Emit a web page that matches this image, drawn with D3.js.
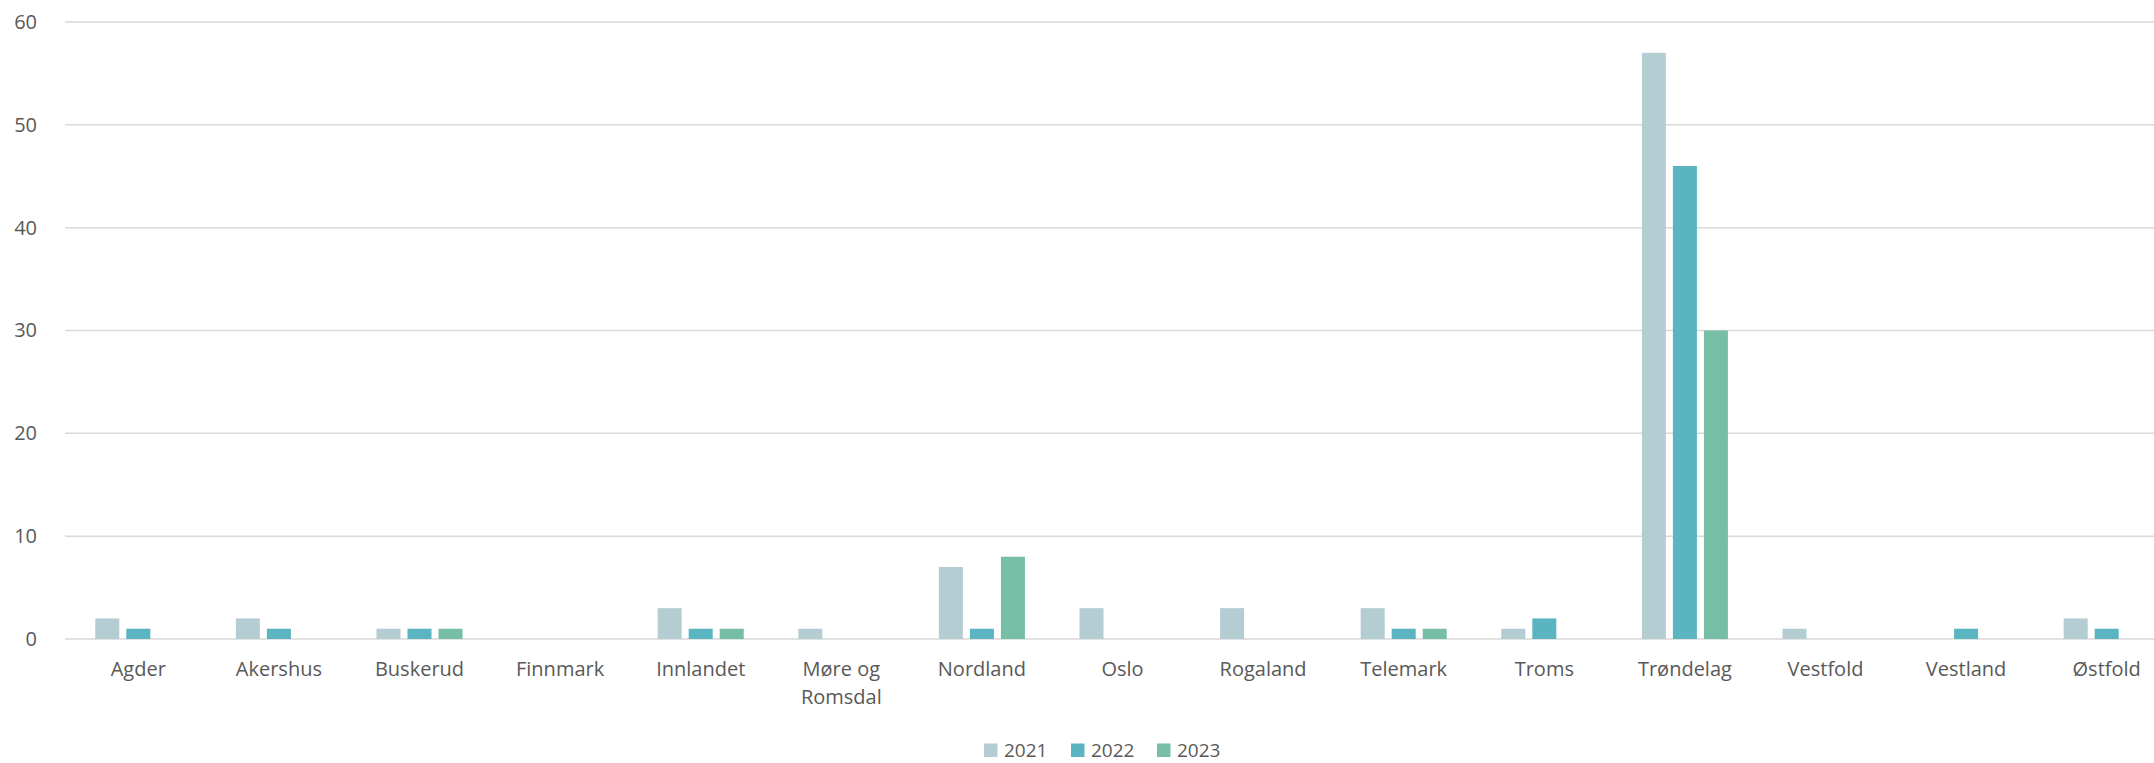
<!DOCTYPE html>
<html><head><meta charset="utf-8">
<script src="https://cdn.jsdelivr.net/npm/d3@7"></script>
<style>body{margin:0;background:#fff}svg{display:block;font-family:"Open Sans",sans-serif}</style>
</head><body><svg id="c" width="2154" height="763"></svg>
<script>
(function(){
const categories = ["Agder","Akershus","Buskerud","Finnmark","Innlandet","Møre og Romsdal","Nordland","Oslo","Rogaland","Telemark","Troms","Trøndelag","Vestfold","Vestland","Østfold"];
const series = ["2021","2022","2023"];
const values2021 = [2,2,1,0,3,1,7,3,3,3,1,57,1,0,2];
const values2022 = [1,1,1,0,1,0,1,0,0,1,2,46,0,1,1];
const values2023 = [0,0,1,0,1,0,8,0,0,1,0,30,0,0,0];
const yTicks = [0,10,20,30,40,50,60];
const colors = ["#B4CDD3","#5AB5C0","#76BEA6"];

const valuesBySeries = [values2021, values2022, values2023];
const svg = d3.select("#c");
const gridLeft = 65, gridRight = 2154;
const mLeft = 68, mRight = 2177, mTop = 22, mBottom = 639;
const font = "'Open Sans',sans-serif";

const y = d3.scaleLinear().domain([0,60]).range([mBottom, mTop]);
const x0 = d3.scaleBand().domain(categories).range([mLeft, mRight]).paddingInner(0.388).paddingOuter(0.194);
const x1 = d3.scaleBand().domain(series).range([0, x0.bandwidth()]).paddingInner(0.226).paddingOuter(0);

// gridlines
svg.append("g").selectAll("line").data(yTicks).join("line")
  .attr("x1", gridLeft).attr("x2", gridRight)
  .attr("y1", d => y(d)).attr("y2", d => y(d))
  .attr("stroke", "#D9D9D9").attr("stroke-width", 1.5);

// y labels
const yAxis = d3.axisLeft(y).tickValues(yTicks).tickSize(0).tickPadding(0);
const ya = svg.append("g").attr("transform", "translate(37,0)").call(yAxis);
ya.select(".domain").remove();
ya.selectAll("text").attr("fill", "#595959").style("font-size", "20px").style("font-family", font);

// bars
series.forEach((s, si) => {
  svg.append("g").selectAll("rect").data(categories.map((c, i) => ({c, v: valuesBySeries[si][i]}))).join("rect")
    .attr("x", d => x0(d.c) + x1(s))
    .attr("width", x1.bandwidth())
    .attr("y", d => y(d.v))
    .attr("height", d => mBottom - y(d.v))
    .attr("fill", colors[si]);
});

// x labels
const xl = svg.append("g");
categories.forEach(c => {
  const cx = x0(c) + x0.bandwidth() / 2;
  const lines = c === "Møre og Romsdal" ? ["Møre og", "Romsdal"] : [c];
  const t = xl.append("text").attr("text-anchor", "middle").attr("fill", "#595959").style("font-size", "20px").style("font-family", font);
  lines.forEach((ln, i) => t.append("tspan").attr("x", cx).attr("y", 676 + i * 27.5).text(ln));
});

// legend
const legX = [984, 1071, 1157];
const lg = svg.append("g");
series.forEach((s, i) => {
  lg.append("rect").attr("x", legX[i]).attr("y", 743.5).attr("width", 13.5).attr("height", 13.5).attr("fill", colors[i]);
  lg.append("text").attr("x", legX[i] + 20).attr("y", 757).attr("fill", "#595959").style("font-size", "19px").style("font-family", font).text(s);
});
})();
</script></body></html>
